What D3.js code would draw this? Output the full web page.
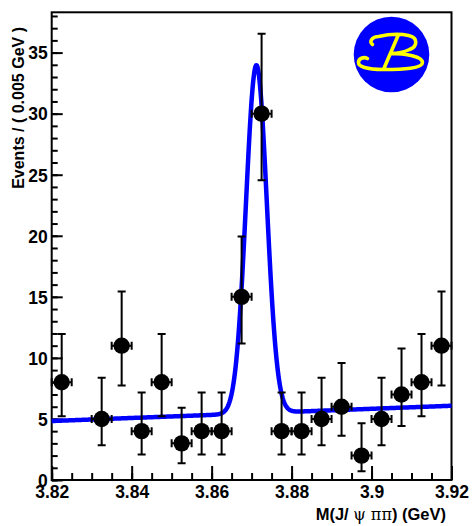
<head>
<meta charset="UTF-8">
<script src="https://d3js.org/d3.v7.min.js"></script>
<style>
  body { margin: 0; background: white; }
  svg text { font-family: "Liberation Sans", Arial, sans-serif; font-weight: bold; fill: black; }
  .frame { fill: none; stroke: black; stroke-width: 2px; }
  .axis line { stroke: black; stroke-width: 2px; }
  .axis path { display: none; }
  .err { stroke: black; stroke-width: 2px; fill: none; }
  .fit { fill: none; stroke: #0000ff; stroke-width: 4.5px; stroke-linejoin: round; }
</style>
</head>
<body>
<svg id="chart" width="472" height="526"></svg>
<script>
  // bin centres (GeV) and event counts, empty bin at 3.8275 is not drawn
  const binCenters = [3.8225, 3.8325, 3.8375, 3.8425, 3.8475, 3.8525, 3.8575, 3.8625, 3.8675, 3.8725,
                      3.8775, 3.8825, 3.8875, 3.8925, 3.8975, 3.9025, 3.9075, 3.9125, 3.9175];
  const counts    = [8, 5, 11, 4, 8, 3, 4, 4, 15, 30, 4, 4, 5, 6, 2, 5, 7, 8, 11];
  // asymmetric poisson errors as drawn
  const errLow    = [2.77, 2.16, 3.26, 1.91, 2.77, 1.63, 1.91, 1.91, 3.83, 5.45,
                     1.91, 1.91, 2.16, 2.38, 1.29, 2.16, 2.58, 2.77, 3.26];
  const errHigh   = [3.95, 3.38, 4.44, 3.16, 3.95, 2.92, 3.16, 3.16, 4.95, 6.55,
                     3.16, 3.16, 3.38, 3.58, 2.64, 3.38, 3.77, 3.95, 4.44];
  const binWidth = 0.005;

  // fit: gaussian peak on a linear background
  const fitMean = 3.8712, fitSigma = 0.0026, fitPeak = 28.5;
  const bgStart = 4.83, bgEnd = 6.08;

  const xTicks = [3.82, 3.84, 3.86, 3.88, 3.90, 3.92];
  const xTickLabels = ["3.82", "3.84", "3.86", "3.88", "3.9", "3.92"];
  const yTicks = [0, 5, 10, 15, 20, 25, 30, 35];

  const svg = d3.select("svg#chart");
  const pLeft = 51.7, pRight = 451.5, pTop = 12.3, pBottom = 480;

  const x = d3.scaleLinear().domain([3.82, 3.92]).range([pLeft, pRight]);
  const y = d3.scaleLinear().domain([0, 38.3]).range([pBottom, pTop]);

  // axes with ticks pointing inward
  const xMinor = d3.range(0, 21).map(i => 3.82 + i * 0.005);
  svg.append("g").attr("class", "axis")
      .attr("transform", `translate(0,${pBottom})`)
      .call(d3.axisBottom(x).tickValues(xMinor).tickSize(-7).tickFormat(""));
  const xa = svg.append("g").attr("class", "axis")
      .attr("transform", `translate(0,${pBottom})`)
      .call(d3.axisBottom(x).tickValues(xTicks).tickSize(-14)
            .tickFormat((d, i) => xTickLabels[i]).tickPadding(6));
  xa.selectAll("text").attr("font-size", 17.5).attr("fill", "black");

  const yMinor = d3.range(0, 39);
  svg.append("g").attr("class", "axis")
      .attr("transform", `translate(${pLeft},0)`)
      .call(d3.axisLeft(y).tickValues(yMinor).tickSize(-6).tickFormat(""));
  const ya = svg.append("g").attr("class", "axis")
      .attr("transform", `translate(${pLeft},0)`)
      .call(d3.axisLeft(y).tickValues(yTicks).tickSize(-11).tickPadding(4));
  ya.selectAll("text").attr("font-size", 17.5).attr("fill", "black").attr("dy", "0.36em");

  svg.append("rect").attr("class", "frame")
      .attr("x", pLeft).attr("y", pTop)
      .attr("width", pRight - pLeft).attr("height", pBottom - pTop);

  // titles
  svg.append("text")
      .attr("transform", "translate(24,27) rotate(-90)")
      .attr("text-anchor", "end")
      .attr("font-size", 16)
      .text("Events / ( 0.005 GeV )");

  const xt = svg.append("text")
      .attr("x", 446).attr("y", 520)
      .attr("text-anchor", "end")
      .attr("font-size", 16.5);
  xt.append("tspan").text("M(J/ ");
  xt.append("tspan").attr("font-family", "DejaVu Serif").attr("font-weight", "normal")
      .attr("font-size", 16).attr("fill", "black").text("ψ ππ");
  xt.append("tspan").text(") (GeV)");

  // fit curve
  const curveX = d3.range(0, 1001).map(i => 3.82 + i * 0.0001);
  const fitY = xv => bgStart + (bgEnd - bgStart) * (xv - 3.82) / 0.1
      + fitPeak * Math.exp(-0.5 * Math.pow((xv - fitMean) / fitSigma, 2));
  svg.append("path")
      .datum(curveX)
      .attr("class", "fit")
      .attr("d", d3.line().x(d => x(d)).y(d => y(fitY(d))));

  // data points with error bars
  const pts = svg.append("g");
  binCenters.forEach((c, i) => {
    const cx = x(c), cy = y(counts[i]);
    const x0 = Math.max(x(c - binWidth / 2), pLeft), x1 = x(c + binWidth / 2);
    const yl = y(counts[i] - errLow[i]), yh = y(counts[i] + errHigh[i]);
    pts.append("path").attr("class", "err")
        .attr("d", `M${cx},${yl}V${yh}M${cx - 4},${yl}H${cx + 4}M${cx - 4},${yh}H${cx + 4}` +
                   `M${x0},${cy}H${x1}M${x0},${cy - 4}V${cy + 4}M${x1},${cy - 4}V${cy + 4}`);
    pts.append("circle").attr("cx", cx).attr("cy", cy).attr("r", 8.2).attr("fill", "black");
  });

  // logo
  const logo = svg.append("g").attr("transform", "translate(391.5,54.5)");
  logo.append("circle").attr("r", 37.8).attr("fill", "#0000ff");
  logo.append("path")
      .attr("fill", "none").attr("stroke", "#ffff00").attr("stroke-width", 3.6)
      .attr("stroke-linecap", "round")
      .attr("d",
        "M-19,-10 C-23,-13 -19,-18 -13,-18 C-4,-20 8,-21 17,-19 C27,-17 26,-8 18,-5 C12,-2 4,-1 -1,-1" +
        "M7,-20 L-8,15" +
        "M-1,-1 C14,-1 31,2 31,8 C31,14 12,15 -8,15 C-25,15 -33,12 -33,8 C-33,4 -28,2 -24,4");
</script>
</body>
